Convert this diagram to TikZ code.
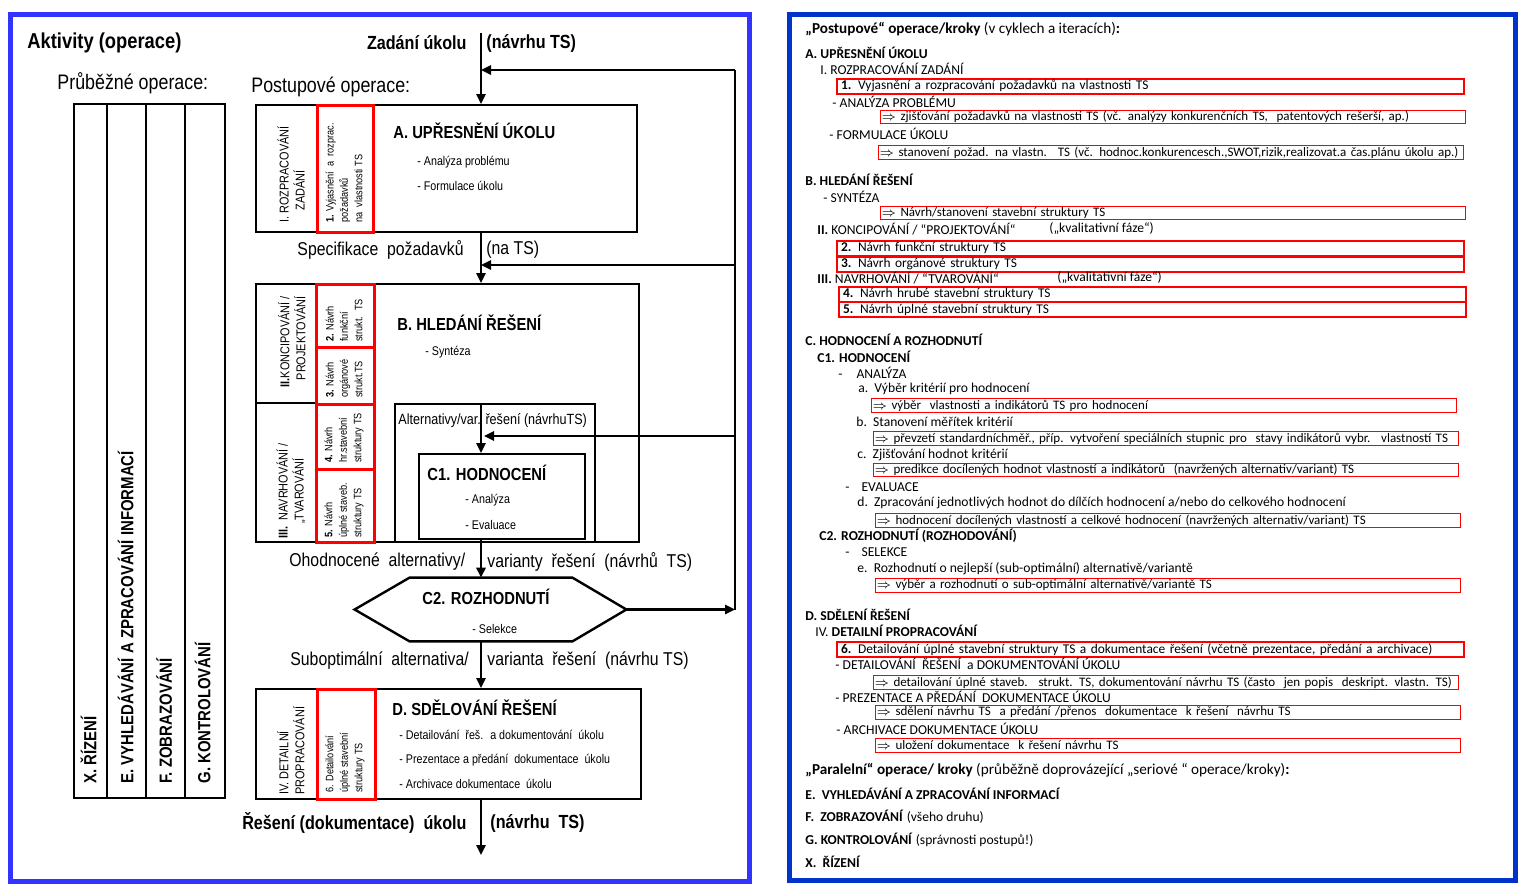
\documentclass[tikz,border=0pt]{standalone}
\usepackage{fontspec}
\setmainfont{Carlito}
\newfontfamily\narrowsans[FakeStretch=0.85]{Liberation Sans}
\usetikzlibrary{arrows.meta,calc}
\definecolor{frameleft}{RGB}{51,51,255}
\definecolor{frameright}{RGB}{0,51,204}
\tikzset{
  outline/.style={line width=1.2pt},
  phase/.style={draw, outline, inner sep=0pt, anchor=north west},
  redcell/.style={draw=red, line width=1.5pt, inner sep=0pt, anchor=north west},
  flow/.style={outline, -{Triangle[length=5pt,width=4.6pt]}},
  headlbl/.style={inner sep=0pt, font=\narrowsans\fontsize{10.5}{12}\selectfont},
  flowlbl/.style={inner sep=0pt, font=\narrowsans\fontsize{9.3}{11}\selectfont},
  boxtitle/.style={inner sep=0pt, anchor=west, font=\narrowsans\bfseries\fontsize{8.7}{10}\selectfont},
  boxitem/.style={inner sep=0pt, anchor=west, font=\narrowsans\fontsize{6.3}{7.5}\selectfont},
  stagetext/.style={inner sep=0pt, rotate=90, font=\narrowsans\fontsize{6.4}{8}\selectfont},
  steptext/.style={inner sep=0pt, rotate=90, anchor=west, align=left, font=\narrowsans\fontsize{5.4}{7.2}\selectfont},
  lane/.style={inner sep=0pt, rotate=90, anchor=west, text height=6.4pt, text depth=0pt, font=\narrowsans\bfseries\fontsize{8.8}{10}\selectfont},
  rtext/.style={anchor=west, inner sep=0pt, font=\fontsize{6.8}{8}\selectfont},
  rbold/.style={rtext, font=\bfseries\fontsize{6.8}{8}\selectfont},
  rhead/.style={rtext, font=\fontsize{7.6}{9}\selectfont},
  stepbox/.style={draw=red, line width=1pt, anchor=west, inner xsep=2pt, inner ysep=0pt, minimum height=7.5pt, text width=309.5pt, align=left, font=\fontsize{6.7}{8}\selectfont},
  notebox/.style={draw=red, line width=0.5pt, anchor=west, inner xsep=0.5pt, inner ysep=0pt, minimum height=6.8pt, text width=291.5pt, align=left, font=\fontsize{6.5}{8}\selectfont}
}
\begin{document}
\begin{tikzpicture}[x=0.5pt,y=-0.5pt]
\useasboundingbox (0,0) rectangle (1523,890);
\draw[frameleft, line width=2.5pt] (10,14) rectangle (749,881);
\draw[frameright, line width=2.5pt] (789,14) rectangle (1515,880);

\node[headlbl, anchor=west, font=\narrowsans\bfseries\fontsize{10.8}{12}\selectfont] (title) at (27,43) {Aktivity (operace)};
\node[headlbl, anchor=west] (parallel) at (57,83) {Průběžné operace:};
\node[headlbl, anchor=west] (serial) at (251,87) {Postupové operace:};

\node[phase, minimum width=75.5pt, minimum height=347pt] (lanes) at (73,103) {};
\foreach \x in {107,146,185}
  \draw[outline] (\x,103) -- (\x,797);
\foreach \x/\t [count=\i] in {90/X. ŘÍZENÍ, 127/E. VYHLEDÁVÁNÍ A ZPRACOVÁNÍ INFORMACÍ, 165.5/F. ZOBRAZOVÁNÍ, 204/G. KONTROLOVÁNÍ}
  \node[lane] (lane\i) at (\x,784) {\t};

\coordinate (axis) at (481,0);
\coordinate (start) at (481,33);
\coordinate (finish) at (481,855);
\coordinate (fbTop) at (735,70);
\coordinate (fbMid) at (735,265);
\coordinate (fbLow) at (735,436);
\coordinate (fbBot) at (735,609.5);

\node[flowlbl, anchor=east, font=\narrowsans\bfseries\fontsize{9.5}{11}\selectfont] (inL) at (467,43) {Zadání úkolu};
\node[flowlbl, anchor=west, font=\narrowsans\bfseries\fontsize{9.5}{11}\selectfont] (inR) at (486,43) {(návrhu  TS)};

\node[phase, minimum width=190.5pt, minimum height=63.5pt] (boxA) at (255,104) {};
\node[redcell, minimum width=28pt, minimum height=63.5pt] (cellA) at (316,104) {};
\node[stagetext, anchor=west, align=left] (stI) at (291,223) {I. ROZPRACOVÁNÍ\\\hspace*{6pt}ZADÁNÍ};
\node[steptext] (s1) at (344,223) {\textbf{1.} Vyjasnění~ a~ rozprac.\\požadavků\\na~ vlastnosti TS};
\node[boxtitle] (tA) at (393,131) {A. UPŘESNĚNÍ ÚKOLU};
\node[boxitem] (iA1) at (417,162) {- Analýza problému};
\node[boxitem] (iA2) at (417,186) {- Formulace úkolu};

\node[flowlbl, anchor=east] (specL) at (464,250) {Specifikace~ požadavků};
\node[flowlbl, anchor=west] (specR) at (486,250) {(na TS)};

\node[phase, minimum width=191.5pt, minimum height=129pt] (boxB) at (255,283) {};
\draw[outline] (255,403) -- (315,403);
\node[redcell, minimum width=29pt, minimum height=31.5pt] (cell2) at (315,283) {};
\node[redcell, minimum width=29pt, minimum height=28.5pt] (cell3) at (315,346) {};
\node[redcell, minimum width=29pt, minimum height=32.5pt] (cell4) at (315,403) {};
\node[redcell, minimum width=29pt, minimum height=36.5pt] (cell5) at (315,468) {};
\node[stagetext, anchor=east, align=right] (stII) at (292,296) {\textbf{II.}KONCIPOVÁNÍ /\\PROJEKTOVÁNÍ};
\node[stagetext, align=center] (stIII) at (291,491) {\textbf{III.}~ NAVRHOVÁNÍ /\\„TVAROVÁNÍ};
\node[steptext] (s2) at (344,342) {\textbf{2.} Návrh\\funkční\\strukt.~ TS};
\node[steptext] (s3) at (344,398) {\textbf{3.} Návrh\\orgánové\\strukt.TS};
\node[steptext] (s4) at (344,463) {\textbf{4.} Návrh\\hr.stavební\\struktury TS};
\node[steptext] (s5) at (344,538) {\textbf{5.} Návrh\\úplné staveb.\\struktury TS};
\node[boxtitle] (tB) at (397,323) {B. HLEDÁNÍ ŘEŠENÍ};
\node[boxitem] (iB1) at (425,352) {- Syntéza};

\node[phase, minimum width=100pt, minimum height=69pt] (alt) at (394,403) {};
\node[boxitem, font=\narrowsans\fontsize{7.4}{9}\selectfont] (altlbl) at (398,421) {Alternativy/var. řešení (návrhuTS)};
\node[phase, minimum width=83pt, minimum height=42.5pt] (c1) at (418,453) {};
\node[boxtitle] (tC1) at (427,473) {C1. HODNOCENÍ};
\node[boxitem] (iC1a) at (465,500) {- Analýza};
\node[boxitem] (iC1b) at (465,525) {- Evaluace};

\node[flowlbl, anchor=west] (evalL) at (289,562) {Ohodnocené~ alternativy/};
\node[flowlbl, anchor=west] (evalR) at (487,562) {varianty~ řešení~ (návrhů~ TS)};

\node[inner sep=0pt, minimum width=81pt, minimum height=31.5pt] (c2) at (491,609.5) {};
\draw[outline] (c2.north west) -- (c2.north east) -- ($(c2.east)+(54,0)$) coordinate (c2tip)
  -- (c2.south east) -- (c2.south west) -- ($(c2.west)+(-55,0)$) -- cycle;
\node[boxtitle, anchor=center] (tC2) at (486,597) {C2. ROZHODNUTÍ};
\node[boxitem] (iC2) at (472,629) {- Selekce};

\node[flowlbl, anchor=west] (subL) at (290,661) {Suboptimální~ alternativa/};
\node[flowlbl, anchor=west] (subR) at (487,661) {varianta~ řešení~ (návrhu TS)};

\node[phase, minimum width=192.5pt, minimum height=55pt] (boxD) at (255,688) {};
\node[redcell, minimum width=29pt, minimum height=55pt] (cell6) at (316,688) {};
\node[stagetext, anchor=west, align=left] (stIV) at (291,795) {IV. DETAILNÍ\\PROPRACOVÁNÍ};
\node[steptext] (s6) at (345,793) {6. Detailování\\úplné stavební\\struktury TS};
\node[boxtitle] (tD) at (392,708) {D. SDĚLOVÁNÍ ŘEŠENÍ};
\node[boxitem] (iD1) at (399,735) {- Detailování~ řeš.~ a dokumentování~ úkolu};
\node[boxitem] (iD2) at (399,760) {- Prezentace a předání~ dokumentace~ úkolu};
\node[boxitem] (iD3) at (399,784) {- Archivace dokumentace~ úkolu};

\node[flowlbl, anchor=east, font=\narrowsans\bfseries\fontsize{9.5}{11}\selectfont] (outL) at (467,823) {Řešení (dokumentace)~ úkolu};
\node[flowlbl, anchor=west, font=\narrowsans\bfseries\fontsize{9.5}{11}\selectfont] (outR) at (490,823) {(návrhu~ TS)};

\draw[flow] (start) -- (boxA.north -| axis);
\draw[flow] (boxA.south -| axis) -- (boxB.north -| axis);
\draw[flow] (alt.north -| axis) -- (c1.north -| axis);
\draw[flow] (c1.south -| axis) -- (c2.north -| axis);
\draw[flow] (c2.south -| axis) -- (boxD.north -| axis);
\draw[flow] (boxD.south -| axis) -- (finish);
\draw[outline] (fbBot) -- (fbTop);
\draw[flow] (c2tip) -- (fbBot);
\draw[flow] (fbTop) -- (fbTop -| axis);
\draw[flow] (fbMid) -- (fbMid -| axis);
\draw[flow] (fbLow) -- ($(fbLow -| axis)+(3,0)$);

\node[rhead] (h1) at (805,29) {\textbf{„Postupové“ operace/kroky} (v cyklech a iteracích)\textbf{:}};
\node[rbold] (rA) at (805,53) {A. UPŘESNĚNÍ ÚKOLU};
\node[rtext] (rI) at (820,69) {I. ROZPRACOVÁNÍ ZADÁNÍ};
\node[stepbox] (b1) at (836,86) {\textbf{1.} Vyjasnění a rozpracování požadavků na vlastnosti TS};
\node[rtext] (rA1) at (832,102) {- ANALÝZA PROBLÉMU};
\node[notebox] (n1) at (880,117) {$\Rightarrow$ zjišťování požadavků na vlastnosti TS (vč. analýzy konkurenčních TS,~ patentových rešerší, ap.)};
\node[rtext] (rA2) at (829,134) {- FORMULACE ÚKOLU};
\node[notebox] (n2) at (878,152.5) {$\Rightarrow$ stanovení požad. na vlastn.~ TS (vč. hodnoc.konkurencesch.,SWOT,rizik,realizovat.a čas.plánu úkolu ap.)};

\node[rbold] (rB) at (805,180) {B. HLEDÁNÍ ŘEŠENÍ};
\node[rtext] (rB1) at (823,197) {- SYNTÉZA};
\node[notebox] (n3) at (880,213) {$\Rightarrow$ Návrh/stanovení stavební struktury TS};
\node[rtext] (rII) at (817,229) {\textbf{II.} KONCIPOVÁNÍ / “PROJEKTOVÁNÍ“};
\node[rtext] (rIIq) at (1049,229) {(„kvalitativní fáze“)};
\node[stepbox] (b2) at (836,248) {\textbf{2.} Návrh funkční struktury TS};
\node[stepbox] (b3) at (836,264) {\textbf{3.} Návrh orgánové struktury TS};
\node[rtext] (rIII) at (817,278) {\textbf{III.} NAVRHOVÁNÍ / “TVAROVÁNÍ“};
\node[rtext] (rIIIq) at (1057,278) {(„kvalitativní fáze“)};
\node[stepbox] (b4) at (838,294) {\textbf{4.} Návrh hrubé stavební struktury TS};
\node[stepbox] (b5) at (838,309.5) {\textbf{5.} Návrh úplné stavební struktury TS};

\node[rbold] (rC) at (805,340) {C. HODNOCENÍ A ROZHODNUTÍ};
\node[rbold] (rC1) at (817,357) {C1. HODNOCENÍ};
\node[rtext] (rC1a) at (838,373) {-\hspace{7pt}ANALÝZA};
\node[rtext] (ra) at (858,389) {a.~~Výběr kritérií pro hodnocení};
\node[notebox] (n4) at (871,405.5) {$\Rightarrow$ výběr~ vlastnosti a indikátorů TS pro hodnocení};
\node[rtext] (rb) at (856,422) {b.~~Stanovení měřítek kritérií};
\node[notebox] (n5) at (873,438.5) {$\Rightarrow$ převzetí standardníchměř., příp. vytvoření speciálních stupnic pro~ stavy indikátorů vybr.~ vlastností TS};
\node[rtext] (rc) at (857,455) {c.~~Zjišťování hodnot kritérií};
\node[notebox] (n6) at (873,470) {$\Rightarrow$ predikce docílených hodnot vlastností a indikátorů~ (navržených alternativ/variant) TS};
\node[rtext] (rC1b) at (845,487) {-\hspace{6pt}EVALUACE};
\node[rtext] (rd) at (857,503) {d.~~Zpracování jednotlivých hodnot do dílčích hodnocení a/nebo do celkového hodnocení};
\node[notebox] (n7) at (875,520.5) {$\Rightarrow$ hodnocení docílených vlastností a celkové hodnocení (navržených alternativ/variant) TS};
\node[rbold] (rC2) at (819,536) {C2. ROZHODNUTÍ (ROZHODOVÁNÍ)};
\node[rtext] (rC2a) at (845,552) {-\hspace{6pt}SELEKCE};
\node[rtext] (re) at (857,569) {e.~~Rozhodnutí o nejlepší (sub-optimální) alternativě/variantě};
\node[notebox] (n8) at (875,585.5) {$\Rightarrow$ výběr a rozhodnutí o sub-optimální alternativě/variantě TS};

\node[rbold] (rD) at (805,615) {D. SDĚLENÍ ŘEŠENÍ};
\node[rtext] (rIV) at (815,631) {IV. \textbf{DETAILNÍ PROPRACOVÁNÍ}};
\node[stepbox] (b6) at (836,649.5) {\textbf{6.} Detailování úplné stavební struktury TS a dokumentace řešení (včetně prezentace, předání a archivace)};
\node[rtext] (rD1) at (835,664) {- DETAILOVÁNÍ~ ŘEŠENÍ~ a DOKUMENTOVÁNÍ ÚKOLU};
\node[notebox] (n9) at (873,682.5) {$\Rightarrow$ detailování úplné staveb.~ strukt. TS, dokumentování návrhu TS (často~ jen popis~ deskript. vlastn. TS)};
\node[rtext] (rD2) at (835,697) {- PREZENTACE A PŘEDÁNÍ~ DOKUMENTACE ÚKOLU};
\node[notebox] (n10) at (875,712.5) {$\Rightarrow$ sdělení návrhu TS~ a předání /přenos~ dokumentace~ k řešení~ návrhu TS};
\node[rtext] (rD3) at (836,729) {- ARCHIVACE DOKUMENTACE ÚKOLU};
\node[notebox] (n11) at (875,745.5) {$\Rightarrow$ uložení dokumentace~ k řešení návrhu TS};

\node[rhead] (h2) at (805,770) {\textbf{„Paralelní“ operace/ kroky} (průběžně doprovázející „seriové “ operace/kroky)\textbf{:}};
\node[rbold] (rE) at (805,794) {E.~ VYHLEDÁVÁNÍ A ZPRACOVÁNÍ INFORMACÍ};
\node[rtext] (rF) at (805,817) {\textbf{F.~ ZOBRAZOVÁNÍ} (všeho druhu)};
\node[rtext] (rG) at (805,840) {\textbf{G. KONTROLOVÁNÍ} (správnosti postupů!)};
\node[rbold] (rX) at (805,862) {X.~ ŘÍZENÍ};
\end{tikzpicture}
\end{document}
